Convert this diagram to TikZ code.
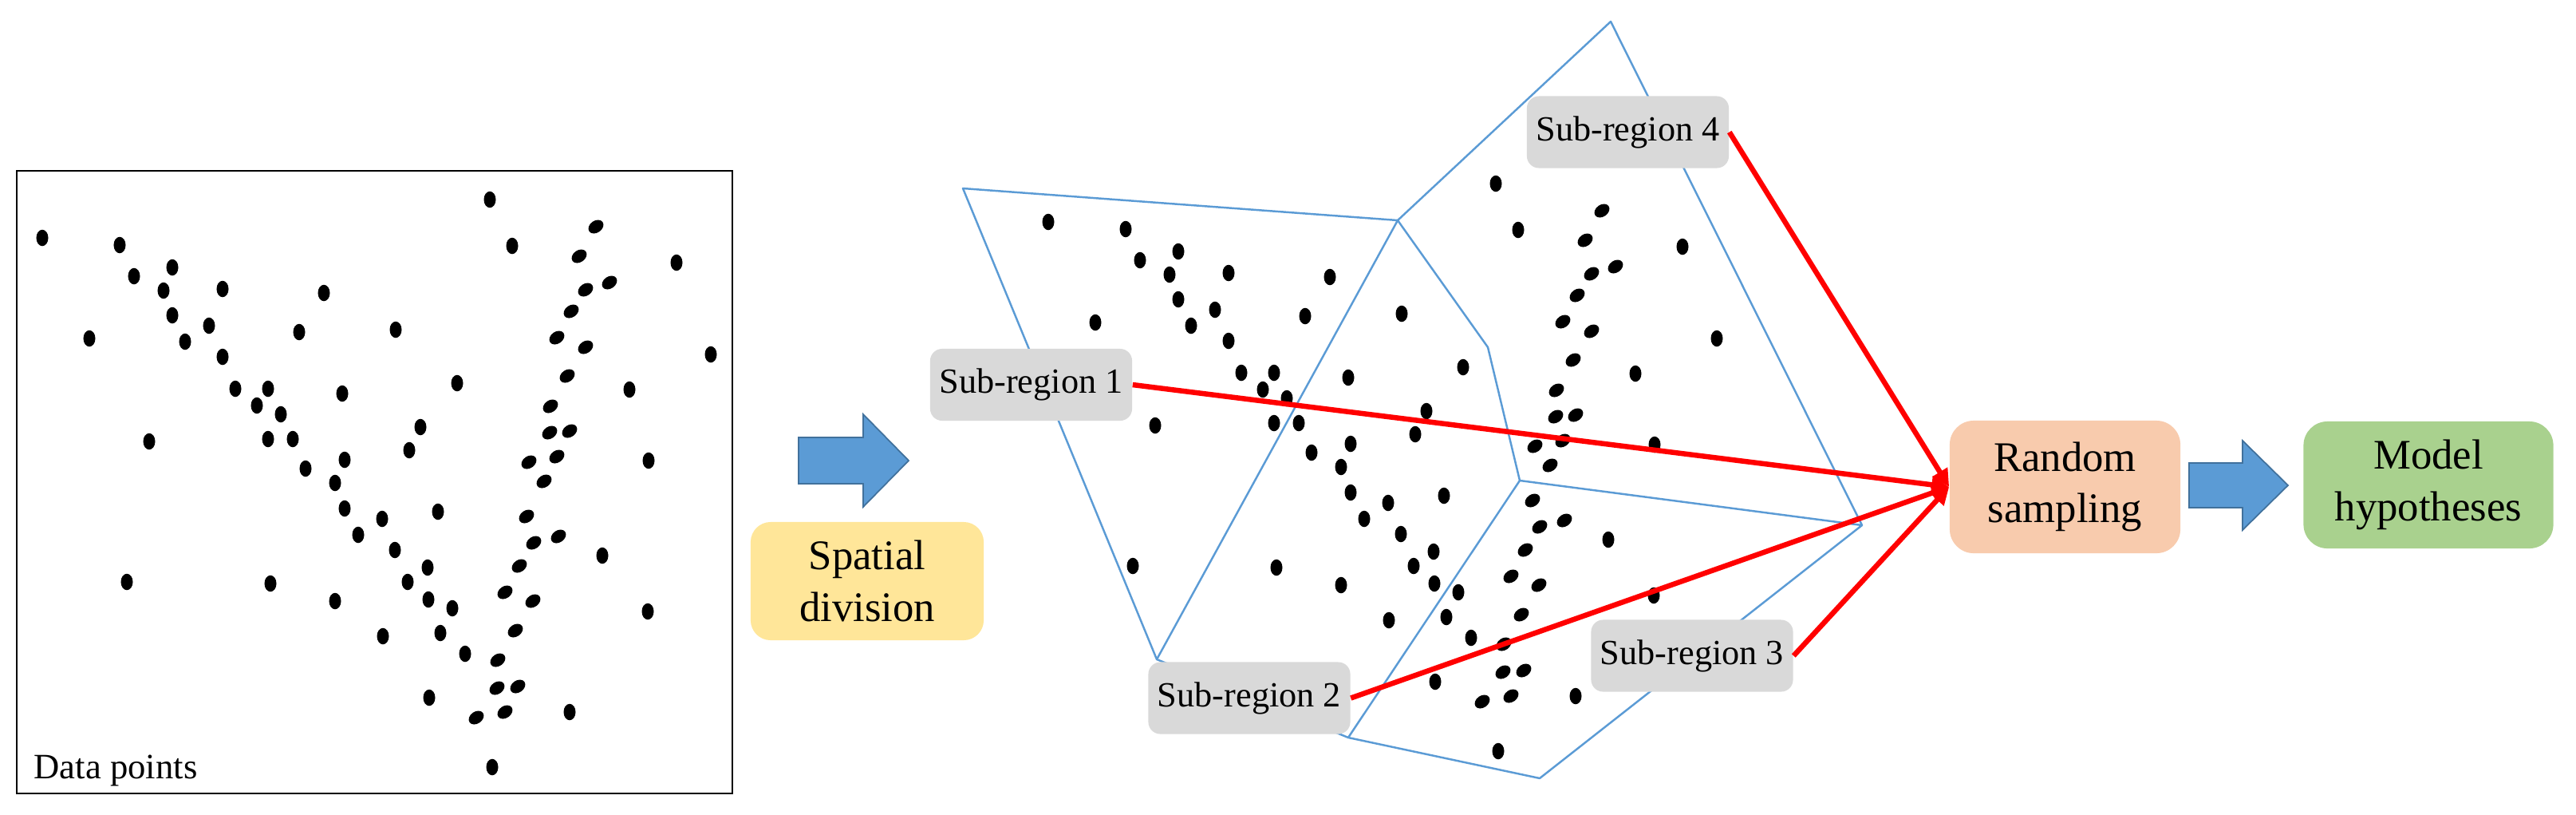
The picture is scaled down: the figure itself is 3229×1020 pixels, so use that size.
\documentclass[tikz,border=0pt]{standalone}
\usepackage{fontspec}
\setmainfont{Liberation Serif}
\usetikzlibrary{arrows.meta}
\usetikzlibrary{shapes.geometric}

\definecolor{arrowBlue}{HTML}{5B9BD5}
\definecolor{arrowBorder}{HTML}{41719C}
\definecolor{lineBlue}{HTML}{5B9BD5}
\definecolor{regionGray}{HTML}{D9D9D9}
\definecolor{spatialYellow}{HTML}{FFE699}
\definecolor{samplePeach}{HTML}{F8CBAD}
\definecolor{modelGreen}{HTML}{A9D18E}

\newcommand{\pointList}{53/298/0, 150/307/0, 168/346/0, 216/335/0, 205/364/0, 279/362/0, 406/367/0, 216/395/0,
	262/408/0, 112/424/0, 232/428/0, 279/447/0, 375/416/0, 496/413/0, 614/250/0, 642/308/0,
	747/284/-55, 726/321/-55, 848/329/0, 734/363/-55, 764/354/-55, 716/390/-55, 698/423/-55, 734/435/-55,
	891/444/0, 711/471/-55, 573/480/0, 789/488/0, 295/487/0, 336/487/0, 429/493/0, 322/508/0,
	352/519/0, 690/509/-55, 527/535/0, 187/553/0, 336/550/0, 367/550/0, 513/564/0, 689/542/-55,
	714/540/-55, 432/576/0, 383/587/0, 698/572/-55, 663/579/-55, 813/577/0, 420/605/0, 682/603/-55,
	432/637/0, 549/641/0, 479/650/0, 660/647/-55, 449/670/0, 700/672/-55, 669/680/-55, 495/689/0,
	755/696/0, 536/711/0, 651/709/-55, 159/729/0, 339/731/0, 511/729/0, 420/753/0, 537/751/0,
	567/762/0, 633/742/-55, 668/753/-55, 812/766/0, 480/797/0, 552/793/0, 646/790/-55, 583/819/0,
	624/827/-55, 623/862/-55, 649/860/-55, 538/874/0, 714/892/0, 597/899/-55, 633/892/-55, 617/961/0}

\begin{document}
\begin{tikzpicture}[x = 0.01cm, y = -0.01cm]
	\tikzstyle{pointStyle}=[shape = ellipse, fill = black, inner sep = 0pt, minimum width = 1.5mm, minimum height = 2.05mm]
	\tikzstyle{frameStyle}=[draw = black, line width = 0.55pt, inner sep = 0pt, minimum width = 8.965cm, minimum height = 7.8cm]
	\tikzstyle{cutStyle}=[draw = lineBlue, line width = 0.7pt, line join = round]
	\tikzstyle{regionStyle}=[fill = regionGray, rounded corners = 0.15cm, minimum width = 2.53cm, minimum height = 0.9cm, inner sep = 0pt, font = \fontsize{12.6pt}{15pt}\selectfont]
	\tikzstyle{stageStyle}=[align = center, inner sep = 0pt, font = \fontsize{15pt}{18.3pt}\selectfont]
	\tikzstyle{blockArrow}=[draw = arrowBorder, fill = arrowBlue, line width = 0.5pt]
	\tikzstyle{sampleArrow}=[draw = red, line width = 1.85pt, -{Triangle[length = 2.2mm, width = 2.1mm]}]
	\useasboundingbox (0,0) rectangle (3229,1020);
	\node[frameStyle] (frame) at (469.75,604) {};
	\node[anchor = base west, inner sep = 0pt, font = \fontsize{12.7pt}{15pt}\selectfont] (dp) at (42,975) {Data points};
	\foreach \px/\py/\pr [count=\i] in \pointList {
		\node[pointStyle, rotate = \pr] (p\i) at (\px,\py) {};
	}
	\begin{scope}[shift = {(1261,-20)}]
		\foreach \px/\py/\pr [count=\i] in \pointList {
			\node[pointStyle, rotate = \pr] (q\i) at (\px,\py) {};
		}
	\end{scope}
	\coordinate (a) at (1207,236);
	\coordinate (b) at (1752,276);
	\coordinate (c) at (1450,826);
	\coordinate (d) at (2019,27);
	\coordinate (e) at (1865,435);
	\coordinate (f) at (1905,602);
	\coordinate (g) at (2334,658);
	\coordinate (h) at (1690,924);
	\coordinate (i) at (1930,975);
	\draw[cutStyle] (a) -- (b) -- (c) -- cycle;
	\draw[cutStyle] (b) -- (d) -- (g) -- (f) -- (e) -- cycle;
	\draw[cutStyle] (f) -- (h) -- (i) -- (g);
	\draw[cutStyle] (c) -- (h);
	\draw[blockArrow] (1001,548) -- (1082,548) -- (1082,519) -- (1139,577) -- (1082,635) -- (1082,606) -- (1001,606) -- cycle;
	\node[stageStyle, fill = spatialYellow, rounded corners = 0.25cm, minimum width = 2.92cm, minimum height = 1.48cm] (sd) at (1087,728) {Spatial\\division};
	\node[regionStyle] (r1) at (1292.5,482) {Sub-region 1};
	\node[regionStyle] (r2) at (1566,874.5) {Sub-region 2};
	\node[regionStyle] (r3) at (2121,821.5) {Sub-region 3};
	\node[regionStyle] (r4) at (2040.5,165.5) {Sub-region 4};
	\node[stageStyle, fill = samplePeach, rounded corners = 0.3cm, minimum width = 2.89cm, minimum height = 1.66cm] (rs) at (2588.5,610) {Random\\sampling};
	\draw[blockArrow] (2744,580) -- (2811,580) -- (2811,552) -- (2868,608) -- (2811,664) -- (2811,636) -- (2744,636) -- cycle;
	\node[stageStyle, fill = modelGreen, rounded corners = 0.3cm, minimum width = 3.13cm, minimum height = 1.59cm] (mh) at (3044,607.5) {Model\\hypotheses};
	\draw[sampleArrow] (r1.east) -- (rs.west);
	\draw[sampleArrow] (r2.east) -- (rs.west);
	\draw[sampleArrow] (r3.east) -- (rs.west);
	\draw[sampleArrow] (r4.east) -- (rs.west);
\end{tikzpicture}
\end{document}
